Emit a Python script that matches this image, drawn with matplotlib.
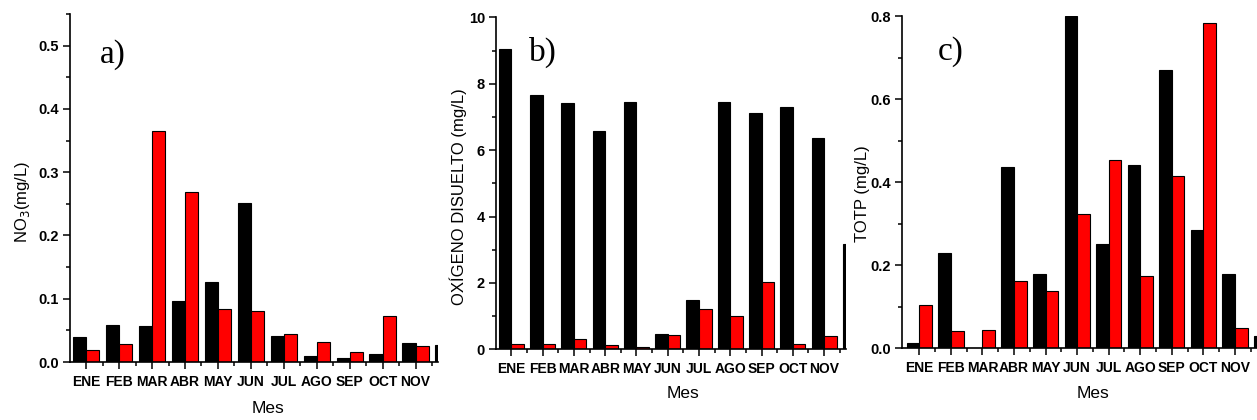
import numpy as np
import matplotlib
matplotlib.use('Agg')
import matplotlib.pyplot as plt
from matplotlib.ticker import MultipleLocator, FormatStrFormatter

meses = ['ENE', 'FEB', 'MAR', 'ABR', 'MAY', 'JUN', 'JUL', 'AGO', 'SEP', 'OCT', 'NOV', 'DIC']

# a) NO3 (mg/L)
no3_negro = [0.039, 0.059, 0.057, 0.096, 0.126, 0.252, 0.041, 0.009, 0.007, 0.013, 0.030, 0.027]
no3_rojo = [0.019, 0.029, 0.365, 0.268, 0.083, 0.081, 0.045, 0.031, 0.016, 0.073, 0.025, 0.020]

# b) oxigeno disuelto (mg/L)
od_negro = [9.05, 7.65, 7.43, 6.58, 7.46, 0.47, 1.48, 7.44, 7.13, 7.29, 6.37, 3.17]
od_rojo = [0.15, 0.17, 0.30, 0.12, 0.07, 0.43, 1.20, 0.99, 2.03, 0.16, 0.40, 0.20]

# c) TOTP (mg/L)
totp_negro = [0.012, 0.230, 0.0, 0.437, 0.180, 0.800, 0.252, 0.442, 0.671, 0.286, 0.179, 0.030]
totp_rojo = [0.104, 0.042, 0.044, 0.162, 0.137, 0.323, 0.453, 0.175, 0.416, 0.782, 0.048, 0.030]

fig = plt.figure(figsize=(12.57, 4.2), dpi=100)

W, H = 1257.0, 420.0


def make_ax(l, r, t, b):
    return fig.add_axes([l / W, 1 - b / H, (r - l) / W, (b - t) / H])


paneles = [
    dict(box=(70, 438, 14, 362), xlim=(-0.49, 10.68), ylim=(0, 0.55), maj=0.1, mnr=0.05, fmt='%.1f',
         negro=no3_negro, rojo=no3_rojo, ylab='NO$_3$(mg/L)', ylab_pos=(32, 202), xlab=(268, 401),
         letra='a)', letra_pos=(113, 55)),
    dict(box=(496, 846, 17.3, 349.3), xlim=(-0.49, 10.7), ylim=(0, 10), maj=2, mnr=1, fmt='%d',
         negro=od_negro, rojo=od_rojo, ylab='OXÍGENO DISUELTO (mg/L)', ylab_pos=(467, 197), xlab=(683, 386),
         letra='b)', letra_pos=(543, 52)),
    dict(box=(901.7, 1257, 16, 348.3), xlim=(-0.56, 10.7), ylim=(0, 0.8), maj=0.2, mnr=0.1, fmt='%.1f',
         negro=totp_negro, rojo=totp_rojo, ylab='TOTP (mg/L)', ylab_pos=(870, 194), xlab=(1093, 386),
         letra='c)', letra_pos=(951, 52)),
]

x = np.arange(len(meses))
w = 0.4

for p in paneles:
    l, r, t, b = p['box']
    ax = make_ax(l, r, t, b)
    ax.bar(x - w / 2, p['negro'], w, color='black', edgecolor='black', linewidth=0.8)
    ax.bar(x + w / 2, p['rojo'], w, color='#ff0000', edgecolor='black', linewidth=0.8)
    ax.spines['top'].set_visible(False)
    ax.spines['right'].set_visible(False)
    ax.spines['left'].set_linewidth(1.2)
    ax.spines['bottom'].set_linewidth(1.2)

    ax.set_xticks(x)
    ax.set_xticklabels(meses, fontsize=10, fontweight='bold', family='Liberation Sans')
    ax.set_xticks(x[:-1] + 0.5, minor=True)
    ax.yaxis.set_major_locator(MultipleLocator(p['maj']))
    ax.yaxis.set_minor_locator(MultipleLocator(p['mnr']))
    ax.yaxis.set_major_formatter(FormatStrFormatter(p['fmt']))
    ax.set_xlim(*p['xlim'])
    ax.set_ylim(*p['ylim'])
    for lab in ax.get_yticklabels():
        lab.set_fontsize(10.5)
        lab.set_fontweight('bold')
        lab.set_family('Liberation Sans')
    ax.tick_params(which='major', direction='out', length=5, width=1.1, pad=3)
    ax.tick_params(axis='x', which='major', pad=4.5)
    ax.tick_params(which='minor', direction='out', length=3, width=1.1)

    ax.set_ylabel(p['ylab'], fontsize=12, family='Liberation Sans')
    ax.yaxis.set_label_coords(p['ylab_pos'][0] / W, 1 - p['ylab_pos'][1] / H, transform=fig.transFigure)
    ax.set_xlabel('Mes', fontsize=12.5, family='Liberation Sans')
    ax.xaxis.set_label_coords(p['xlab'][0] / W, 1 - p['xlab'][1] / H, transform=fig.transFigure)
    fig.text(p['letra_pos'][0] / W, 1 - p['letra_pos'][1] / H, p['letra'], fontsize=24,
             family='Liberation Serif', ha='center', va='center')

fig.savefig('out.png', dpi=100)
